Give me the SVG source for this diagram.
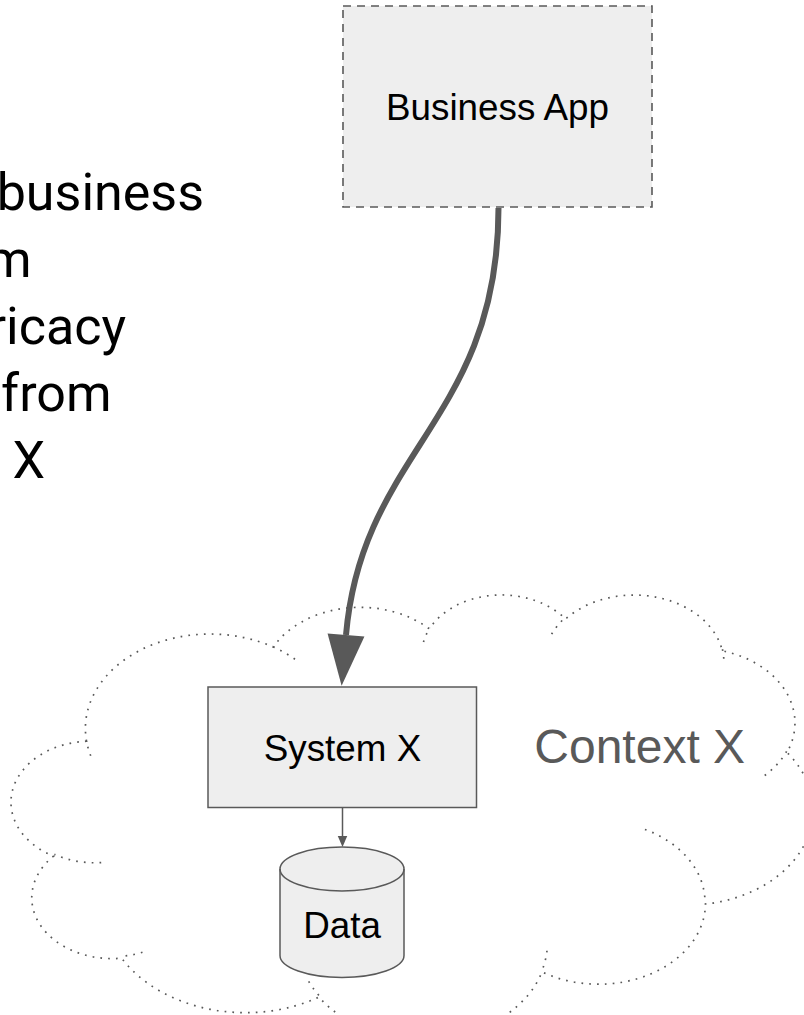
<svg xmlns="http://www.w3.org/2000/svg" width="804" height="1015" viewBox="0 0 804 1015">
<style>
  .box { fill: #eeeeee; stroke: #595959; stroke-width: 1.5; }
  .dashed { stroke-dasharray: 8 6; stroke-width: 1.6; }
  .lbl { font-family: "Liberation Sans", Arial, sans-serif; font-size: 36.8px; fill: #000000; text-anchor: middle; }
  .ctx { font-family: "Liberation Sans", Arial, sans-serif; font-size: 48px; fill: #595959; }
  .note { font-family: Roboto, "Liberation Sans", sans-serif; font-size: 52px; fill: #000000; text-anchor: end; }
  .cloud { fill: none; stroke: #595959; stroke-width: 1.7; stroke-dasharray: 1.7 6.1; }
  .thick { fill: none; stroke: #595959; stroke-width: 6; }
  .thin { fill: none; stroke: #595959; stroke-width: 1.5; }
</style>
<defs>
  <marker id="bigHead" markerUnits="userSpaceOnUse" markerWidth="52" markerHeight="38" refX="0" refY="18.5" orient="auto" overflow="visible">
    <path d="M0,0 L51,18.5 L0,37 Z" fill="#595959"/>
  </marker>
  <marker id="smallHead" markerUnits="userSpaceOnUse" markerWidth="12" markerHeight="10" refX="0" refY="4.75" orient="auto" overflow="visible">
    <path d="M0,0 L11,4.75 L0,9.5 Z" fill="#595959"/>
  </marker>
</defs>

<g id="note">
  <text class="note" x="204" y="210">business</text>
  <text class="note" x="31.5" y="277">m</text>
  <text class="note" x="126" y="344">ricacy</text>
  <text class="note" x="111.5" y="411">from</text>
  <text class="note" x="45" y="478">X</text>
</g>

<g id="context-x">
  <path class="cloud" d="M86.54,741.22 A124.74,94.47 0 0 1 273.21,646.98 A98.51,74.70 0 0 1 429.33,628.80 A80.63,61.11 0 0 1 565.59,619.01 A89.72,67.80 0 0 1 722.33,650.83 A98.51,74.77 0 0 1 786.98,752.44 A125.15,94.78 0 0 1 705.45,904.00 A106.86,80.87 0 0 1 542.00,971.95 A124.72,94.73 0 0 1 318.94,997.15 A142.60,108.38 0 0 1 121.69,958.18 A80.54,60.84 0 0 1 53.51,856.17 A80.26,61.11 0 0 1 86.54,741.22 Z"/>
  <path class="cloud" d="M101.19,862.60 A80.26,61.11 0 0 1 54.39,854.40 M142.47,952.26 A80.54,60.84 0 0 1 121.99,956.18 M318.88,995.35 A124.72,94.73 0 0 1 306.55,977.45 M546.99,950.74 A124.72,94.73 0 0 1 542.07,970.37 M644.93,829.47 A106.86,80.87 0 0 1 705.00,902.82 M786.59,751.34 A98.51,74.77 0 0 1 759.83,778.86 M722.42,649.28 A89.72,67.80 0 0 1 723.83,662.27 M551.63,634.13 A89.72,67.80 0 0 1 565.33,617.56 M423.49,642.02 A80.63,61.11 0 0 1 430.13,627.73 M273.11,646.87 A124.74,94.47 0 0 1 297.11,660.73 M90.73,755.81 A124.74,94.47 0 0 1 86.54,741.22"/>
  <text class="ctx" x="534.3" y="763">Context X</text>
</g>

<g id="connectors">
  <path class="thick" d="M498.5,208 C498.5,420 362,450 346,635" marker-end="url(#bigHead)"/>
  <path class="thin" d="M342.5,808 L342.5,836" marker-end="url(#smallHead)"/>
</g>

<g id="business-app">
  <rect class="box dashed" x="343" y="6" width="309" height="201"/>
  <text class="lbl" x="497.5" y="120">Business App</text>
</g>

<g id="system-x">
  <rect class="box" x="208" y="687" width="268.5" height="120.5"/>
  <text class="lbl" x="342.5" y="761">System X</text>
</g>

<g id="data">
  <path class="box" d="M280,869 L280,955.5 A62,22 0 0 0 404,955.5 L404,869 A62,22 0 0 0 280,869 Z"/>
  <path class="box" style="fill:none" d="M280,869 A62,22 0 0 0 404,869"/>
  <text class="lbl" x="342" y="938">Data</text>
</g>
</svg>
